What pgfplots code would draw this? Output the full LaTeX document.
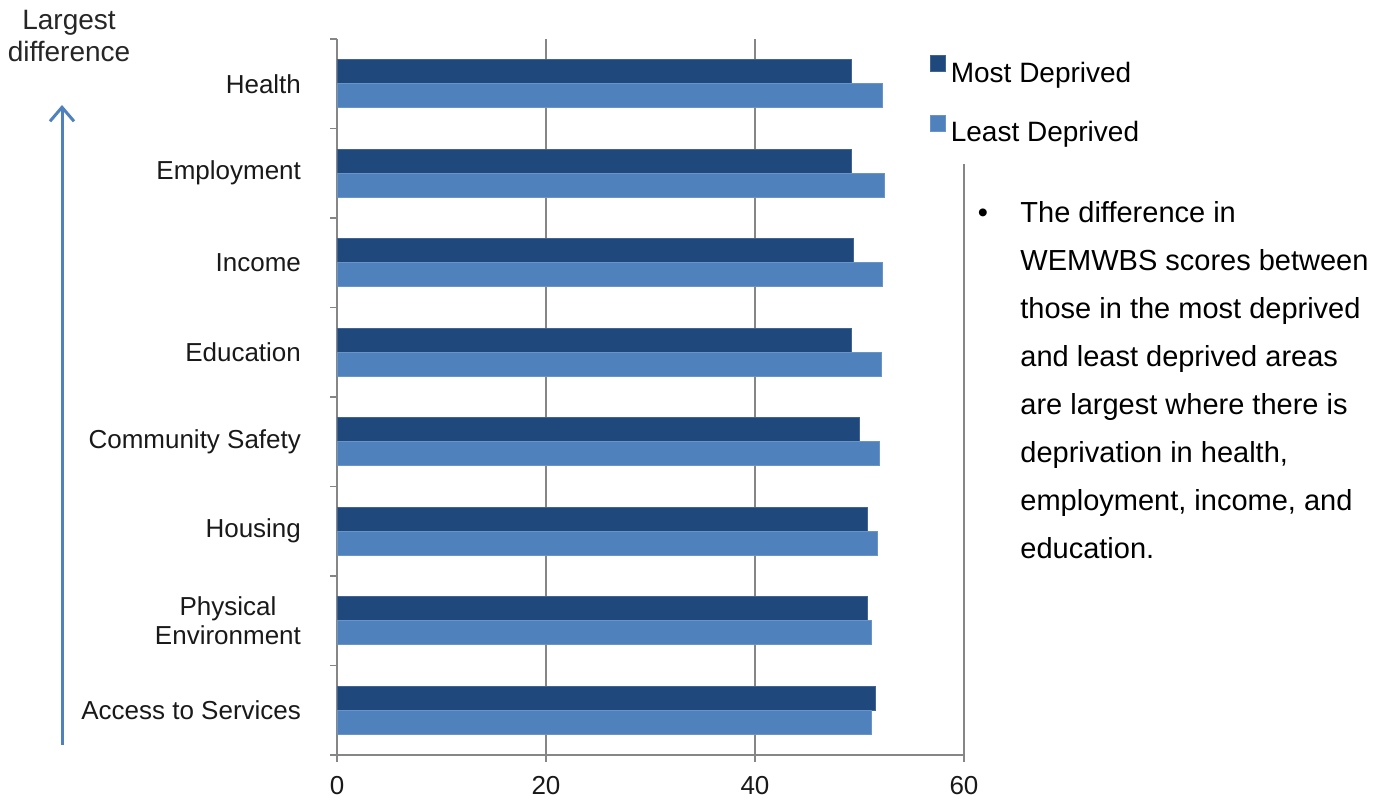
\documentclass[border=0pt]{standalone}
\usepackage{pgfplots}
\pgfplotsset{compat=1.18}
\usepackage{fontspec}
\setmainfont{Liberation Sans}
\usetikzlibrary{arrows.meta}
\definecolor{darkbar}{RGB}{31,73,125}
\definecolor{lightbar}{RGB}{79,129,189}
\definecolor{axgray}{RGB}{134,134,134}
\begin{document}
\begin{tikzpicture}
\useasboundingbox (0,0) rectangle (696pt,400.5pt);
\begin{axis}[
  at={(168.5pt,23pt)}, anchor=south west,
  scale only axis, width=313.5pt, height=358pt,
  xbar, bar width=12pt,
  xmin=0, xmax=60, ymin=-0.5, ymax=7.5,
  xtick={0,20,40,60},
  ytick={0,...,7},
  yticklabels={Access to Services, {Physical\\Environment}, Housing, Community Safety, Education, Income, Employment, Health},
  minor ytick={-0.5,0.5,...,7.5},
  axis x line*=bottom, axis y line*=left,
  axis line style={draw=axgray, line width=0.8pt},
  tick align=outside,
  major tick length=3.5pt, minor tick length=3.5pt,
  major x tick style={draw=axgray, line width=0.8pt},
  major y tick style={draw=none},
  minor y tick style={draw=axgray, line width=0.8pt},
  xmajorgrids, grid style={draw=axgray, line width=0.8pt},
  /pgf/number format/assume math mode=true,
  tick label style={font=\fontsize{13pt}{14.5pt}\selectfont, text=black!90},
  yticklabel style={align=center, xshift=-11pt},
  xticklabel style={yshift=-3.5pt},
  legend style={at={(0.938,1)}, anchor=north west, draw=none, fill=white,
    inner xsep=2pt, inner ysep=8pt, row sep=13pt,
    font=\fontsize{14pt}{16pt}\selectfont,
    nodes={inner sep=0pt, text height=10pt, text depth=3pt, anchor=west}},
  legend cell align=left,
  legend image code/.code={\fill[#1] (0pt,2pt) rectangle (7.5pt,10pt); \path[draw=none,fill=none] (10.5pt,4pt) -- (10.5pt,5pt);},
]
\addplot[fill=darkbar, draw=darkbar!85!white, line width=0.3pt, bar shift=6pt] coordinates {
  (51.5,0) (50.75,1) (50.75,2) (50.0,3) (49.25,4) (49.4,5) (49.25,6) (49.25,7)};
\addplot[fill=lightbar, draw=lightbar!85!white, line width=0.3pt, bar shift=-6pt] coordinates {
  (51.1,0) (51.1,1) (51.7,2) (51.85,3) (52.05,4) (52.2,5) (52.4,6) (52.2,7)};
\legend{Most Deprived, Least Deprived}
\end{axis}
% left annotation
\node[align=center, font=\fontsize{14pt}{16pt}\selectfont, text=black!85] at (34.5pt,382.5pt) {Largest\\difference};
\draw[lightbar, line width=1.5pt, -{Straight Barb[length=7pt, width=12pt, line width=1.5pt]}] (31pt,28pt) -- (31pt,348pt);
% bullet text
\begin{scope}[every node/.style={anchor=base west, inner sep=0pt, font=\fontsize{14.5pt}{24pt}\selectfont}]
\node[anchor=base] at (491.5pt,289.3pt) {•};
\node at (510pt,289.3pt) {The difference in};
\node at (510pt,265.3pt) {WEMWBS scores between};
\node at (510pt,241.3pt) {those in the most deprived};
\node at (510pt,217.3pt) {and least deprived areas};
\node at (510pt,193.3pt) {are largest where there is};
\node at (510pt,169.3pt) {deprivation in health,};
\node at (510pt,145.3pt) {employment, income, and};
\node at (510pt,121.3pt) {education.};
\end{scope}
\end{tikzpicture}
\end{document}
